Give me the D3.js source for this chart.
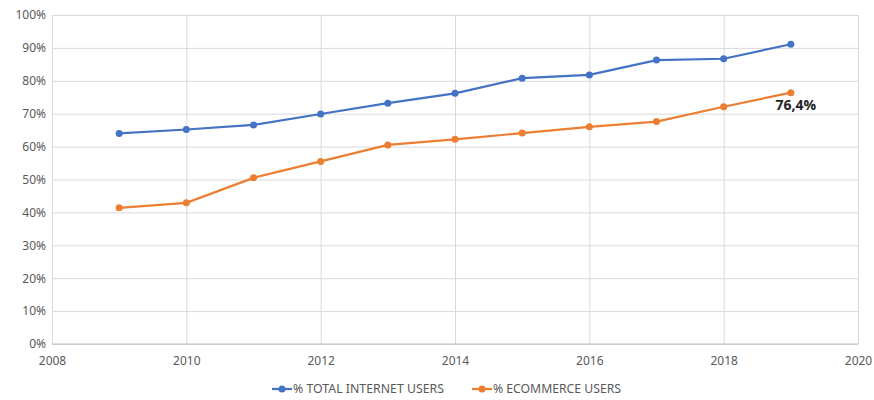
<!DOCTYPE html>
<html>
<head>
<meta charset="utf-8">
<script src="https://cdn.jsdelivr.net/npm/d3@7"></script>
<style>
  body { margin: 0; background: #fff; }
  text { font-family: "Liberation Sans Narrow", "Noto Sans", sans-serif; }
</style>
</head>
<body>
<div id="chart"></div>
<script>
// data
const years = [2009, 2010, 2011, 2012, 2013, 2014, 2015, 2016, 2017, 2018, 2019];
const internetUsers = [64.0, 65.2, 66.6, 69.9, 73.2, 76.2, 80.8, 81.8, 86.3, 86.7, 91.1];
const ecommerceUsers = [41.4, 42.9, 50.5, 55.5, 60.5, 62.2, 64.1, 66.0, 67.6, 72.1, 76.4];
const seriesNames = ["% TOTAL INTERNET USERS", "% ECOMMERCE USERS"];
const xTicks = [2008, 2010, 2012, 2014, 2016, 2018, 2020];
const yTicks = [0, 10, 20, 30, 40, 50, 60, 70, 80, 90, 100];

const W = 874, H = 400;
const margin = {top: 15, right: 16, bottom: 56, left: 52},
    width = W - margin.left - margin.right,
    height = H - margin.top - margin.bottom;

const svg = d3.select("#chart")
  .append("svg")
    .attr("width", W)
    .attr("height", H)
  .append("g")
    .attr("transform", `translate(${margin.left},${margin.top})`);

const x = d3.scaleLinear().domain([2008, 2020]).range([0, width]);
const y = d3.scaleLinear().domain([0, 100]).range([height, 0]);

// horizontal grid
svg.append("g")
  .call(d3.axisLeft(y).tickValues(yTicks).tickSize(-width).tickFormat(d => d + "%"))
  .call(g => g.select(".domain").remove())
  .call(g => g.selectAll("line").attr("stroke", "#d9d9d9"))
  .call(g => g.selectAll("text").attr("x", -6).attr("fill", "#595959").style("font-size", "12px"));

// vertical grid + x labels
svg.append("g")
  .attr("transform", `translate(0,${height})`)
  .call(d3.axisBottom(x).tickValues(xTicks).tickSize(-height).tickFormat(d3.format("d")))
  .call(g => g.select(".domain").remove())
  .call(g => g.selectAll("line").attr("stroke", "#d9d9d9"))
  .call(g => g.selectAll("text").attr("y", 12).attr("fill", "#595959").style("font-size", "12px"));

// axis line at 0
svg.append("line")
  .attr("x1", 0).attr("x2", width)
  .attr("y1", y(0)).attr("y2", y(0))
  .attr("stroke", "#bfbfbf");

const colors = ["#4472C4", "#ED7D31"];
const series = [internetUsers, ecommerceUsers];

const line = d3.line()
  .x((d, i) => x(years[i]))
  .y(d => y(d));

series.forEach((vals, s) => {
  svg.append("path")
    .datum(vals)
    .attr("d", line)
    .attr("fill", "none")
    .attr("stroke", colors[s])
    .attr("stroke-width", 2.2);

  svg.selectAll(".dot" + s)
    .data(vals)
    .join("circle")
      .attr("cx", (d, i) => x(years[i]))
      .attr("cy", d => y(d))
      .attr("r", 3.5)
      .attr("fill", colors[s]);
});

// label on last ecommerce point
const last = ecommerceUsers.length - 1;
svg.append("text")
  .attr("x", x(years[last]) + 5)
  .attr("y", y(ecommerceUsers[last]) + 17)
  .attr("text-anchor", "middle")
  .attr("font-weight", "bold")
  .attr("fill", "#222")
  .style("font-family", "'Open Sans', sans-serif")
  .style("font-size", "14px")
  .text(String(ecommerceUsers[last]).replace(".", ",") + "%");

// legend
const legend = svg.append("g")
  .attr("transform", `translate(0,${height + 45})`);
const legendX = [220, 420];
seriesNames.forEach((name, s) => {
  const g = legend.append("g").attr("transform", `translate(${legendX[s]},0)`);
  g.append("line").attr("x1", 0).attr("x2", 20).attr("y1", 0).attr("y2", 0)
    .attr("stroke", colors[s]).attr("stroke-width", 2.2);
  g.append("circle").attr("cx", 10).attr("cy", 0).attr("r", 3.5).attr("fill", colors[s]);
  g.append("text").attr("x", 21).attr("y", 4)
    .attr("fill", "#595959")
    .style("font-size", "12px")
    .attr("textLength", s === 0 ? 151 : 128)
    .attr("lengthAdjust", "spacingAndGlyphs")
    .text(name);
});
</script>
</body>
</html>
